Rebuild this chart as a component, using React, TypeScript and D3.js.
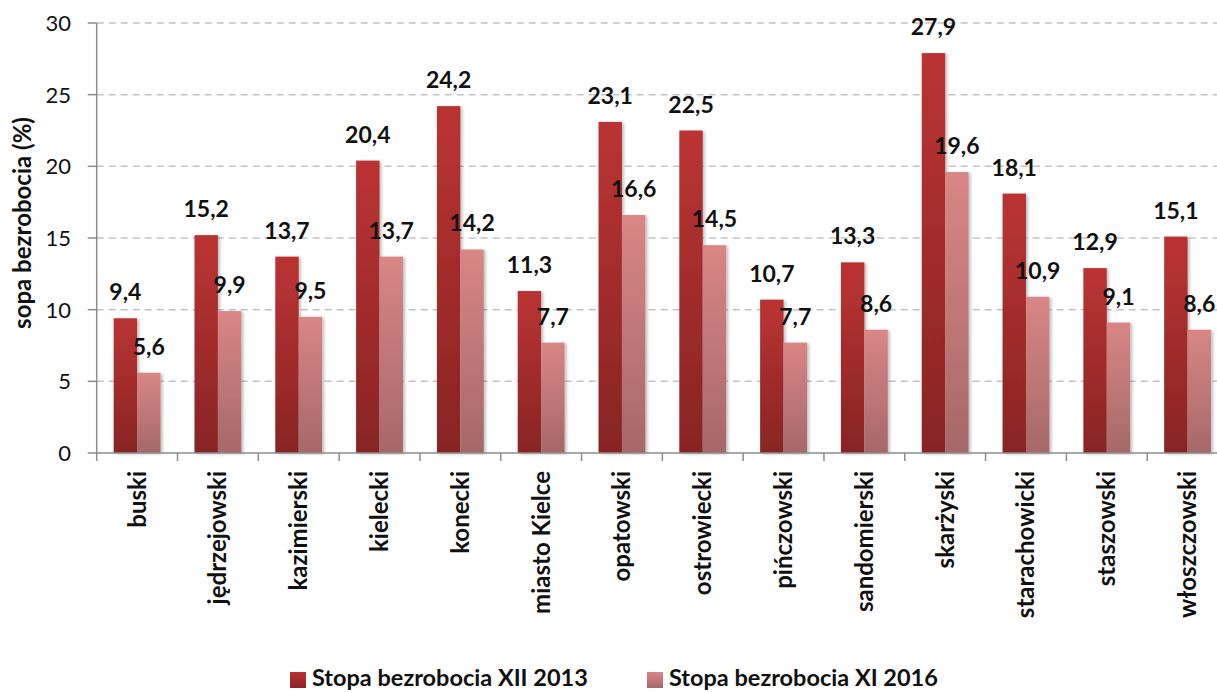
import React from "react";
import * as d3 from "d3";

const categories = ["buski", "jędrzejowski", "kazimierski", "kielecki", "konecki", "miasto Kielce", "opatowski", "ostrowiecki", "pińczowski", "sandomierski", "skarżyski", "starachowicki", "staszowski", "włoszczowski"];
const series2013 = [9.4, 15.2, 13.7, 20.4, 24.2, 11.3, 23.1, 22.5, 10.7, 13.3, 27.9, 18.1, 12.9, 15.1];
const series2016 = [5.6, 9.9, 9.5, 13.7, 14.2, 7.7, 16.6, 14.5, 7.7, 8.6, 19.6, 10.9, 9.1, 8.6];
const seriesNames = ["Stopa bezrobocia XII 2013", "Stopa bezrobocia XI 2016"];
const yTicks = [0, 5, 10, 15, 20, 25, 30];

const W = 1217, H = 692;
const FONT = "Lato, 'Open Sans', sans-serif";

export default function App() {
  const left = 96.7, right = 1228, top = 23, bottom = 453;
  const x0 = d3.scaleBand<string>().domain(categories).range([left, right]).paddingInner(0.42).paddingOuter(0.21);
  const x1 = d3.scaleBand<string>().domain(["a", "b"]).range([0, x0.bandwidth()]);
  const y = d3.scaleLinear().domain([0, 30]).range([bottom, top]);
  const step = x0.step();
  const fmt = (v: number) => v.toFixed(1).replace(".", ",");
  const data = [series2013, series2016];
  const keys = ["a", "b"];
  const grads = ["g1", "g2"];
  const legendX = [290, 647];

  return (
    <svg width={W} height={H} style={{ position: "absolute", left: 0, top: 0, background: "#fff" }}>
      <defs>
        <linearGradient id="g1" x1="0" y1="0" x2="0" y2="1">
          <stop offset="0" stopColor="#bb3333" />
          <stop offset="1" stopColor="#882424" />
        </linearGradient>
        <linearGradient id="g2" x1="0" y1="0" x2="0" y2="1">
          <stop offset="0" stopColor="#d98686" />
          <stop offset="1" stopColor="#a66868" />
        </linearGradient>
        <filter id="sh" x="-20%" y="-5%" width="150%" height="115%">
          <feDropShadow dx="2" dy="1" stdDeviation="1.5" floodColor="#000" floodOpacity="0.25" />
        </filter>
      </defs>
      {yTicks.filter(t => t > 0).map(t => (
        <line key={t} x1={left} x2={W} y1={y(t)} y2={y(t)} stroke="#c4c4c4" strokeWidth={1.5} strokeDasharray="7,5" />
      ))}
      {categories.map((c, i) => (
        <g key={c}>
          {data.map((s, k) => (
            <rect key={k} x={x0(c)! + x1(keys[k])!} y={y(s[i])} width={x1.bandwidth()} height={bottom - y(s[i])} fill={`url(#${grads[k]})`} filter="url(#sh)" />
          ))}
        </g>
      ))}
      <line x1={left} x2={left} y1={top} y2={bottom} stroke="#8c8c8c" strokeWidth={1.5} />
      <line x1={left} x2={W} y1={bottom} y2={bottom} stroke="#8c8c8c" strokeWidth={1.5} />
      {yTicks.map(t => (
        <g key={t}>
          <line x1={left - 9} x2={left} y1={y(t)} y2={y(t)} stroke="#8c8c8c" strokeWidth={1.5} />
          <text x={71} y={y(t)} dy="0.36em" textAnchor="end" fontFamily={FONT} fontSize={22} fill="#111">{t}</text>
        </g>
      ))}
      {d3.range(categories.length + 1).map(i => (
        <line key={i} x1={left + i * step} x2={left + i * step} y1={bottom} y2={bottom + 8} stroke="#8c8c8c" strokeWidth={1.5} />
      ))}
      {categories.map((c, i) => (
        <g key={c}>
          {data.map((s, k) => (
            <text key={k} x={x0(c)! + x1(keys[k])! + x1.bandwidth() / 2} y={y(s[i]) - 18} textAnchor="middle" fontFamily={FONT} fontWeight="bold" fontSize={23} fill="#111">{fmt(s[i])}</text>
          ))}
        </g>
      ))}
      {categories.map(c => {
        const cx = x0(c)! + x0.bandwidth() / 2;
        return (
          <text key={c} transform={`translate(${cx + 8.5},471) rotate(-90)`} textAnchor="end" fontFamily={FONT} fontWeight="bold" fontSize={24} fill="#111">{c}</text>
        );
      })}
      <text transform={`translate(31,223) rotate(-90)`} textAnchor="middle" fontFamily={FONT} fontWeight="bold" fontSize={24} fill="#111">sopa bezrobocia (%)</text>
      {seriesNames.map((n, k) => (
        <g key={n}>
          <rect x={legendX[k]} y={672} width={16} height={16} fill={`url(#${grads[k]})`} />
          <text x={legendX[k] + 22} y={686} fontFamily={FONT} fontWeight="bold" fontSize={23.5} fill="#111">{n}</text>
        </g>
      ))}
    </svg>
  );
}
